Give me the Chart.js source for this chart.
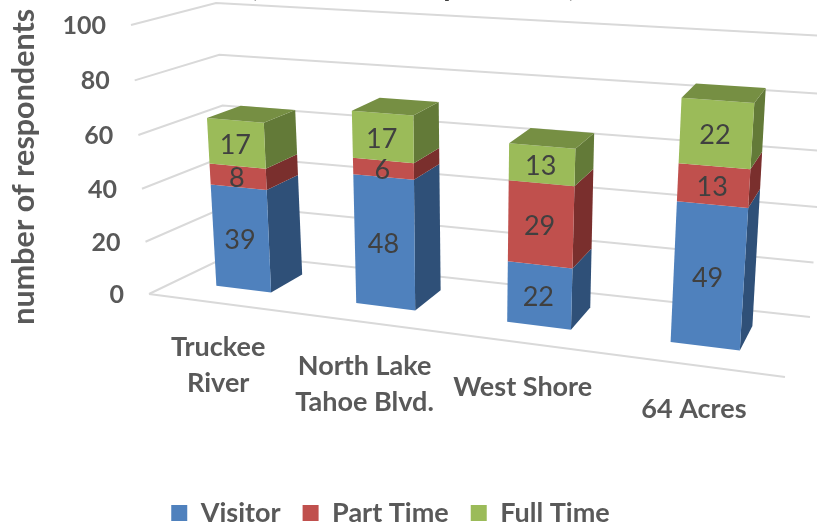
<!DOCTYPE html>
<html>
<head>
<meta charset="utf-8">
<style>
html, body { margin: 0; padding: 0; background: #fff; }
#wrap { width: 817px; height: 527px; overflow: hidden; }
</style>
<script src="https://cdn.jsdelivr.net/npm/chart.js@4"></script>
</head>
<body>
<div id="wrap"><canvas id="chart" width="817" height="527"></canvas></div>
<script>
const categories = [['Truckee', 'River'], ['North Lake', 'Tahoe Blvd.'], ['West Shore'], ['64 Acres']];
const visitor = [39, 48, 22, 49];
const partTime = [8, 6, 29, 13];
const fullTime = [17, 17, 13, 22];
const yTicks = [0, 20, 40, 60, 80, 100];

const frontFaces = ['#4f81bd', '#c0504d', '#9bbb59'];
const sideFaces = ['#2f5078', '#7a2f2d', '#637a38'];
const topFaces = ['#3f6797', '#9a403e', '#768f43'];
const gray = '#595959';
const font = 'Lato, Carlito, sans-serif';

// screen corners of the 3D box: floor and top, f = front, b = back, l = left, r = right
const box = {
    fl0: [149, 294], fr0: [785, 377], bl0: [232, 254], br0: [810, 317],
    fl1: [131, 25], fr1: [807, 68], bl1: [216, 3], br1: [828, 36]
};
const depthFront = 0.33, depthBack = 0.75; // bar depth inside the box
const perspU = 0.17, perspV = 0.037;

const mix = (a, b, t) => [a[0] + (b[0] - a[0]) * t, a[1] + (b[1] - a[1]) * t];

// u along the categories, v up the value axis, w into the depth
function project(u, v, w) {
    const pu = u / (1 + perspU * (1 - u));
    const pv = v / (1 + perspV * (1 - v));
    const floor = mix(mix(box.fl0, box.fr0, pu), mix(box.bl0, box.br0, pu), w);
    const top = mix(mix(box.fl1, box.fr1, pu), mix(box.bl1, box.br1, pu), w);
    return mix(floor, top, pv);
}

function poly(ctx, pts, fill) {
    ctx.beginPath();
    pts.forEach((p, i) => i ? ctx.lineTo(p[0], p[1]) : ctx.moveTo(p[0], p[1]));
    ctx.closePath();
    ctx.fillStyle = fill;
    ctx.fill();
}

function line(ctx, pts) {
    ctx.beginPath();
    pts.forEach((p, i) => i ? ctx.lineTo(p[0], p[1]) : ctx.moveTo(p[0], p[1]));
    ctx.stroke();
}

const box3d = {
    id: 'box3d',
    beforeDatasetsDraw(chart) {
        const ctx = chart.ctx;
        const yScale = chart.scales.y, xScale = chart.scales.x;
        const area = chart.chartArea;
        const toV = val => val / yScale.max;
        const toU = px => (px - area.left) / (area.right - area.left);

        ctx.save();

        // title runs off the top of the picture, only the descenders show
        ctx.font = 'bold 30px ' + font;
        ctx.fillStyle = '#404040';
        ctx.textAlign = 'center';
        ctx.textBaseline = 'alphabetic';
        ctx.fillText('(number of respondents)', 413, -4);

        // walls and floor
        ctx.font = 'bold 25px ' + font;
        ctx.strokeStyle = '#d9d9d9';
        ctx.lineWidth = 2;
        yScale.ticks.forEach(t => {
            const v = toV(t.value);
            const a = project(0, v, 0), b = project(0, v, 1), c = project(1, v, 1);
            line(ctx, [a, b, c]);
            ctx.fillStyle = gray;
            ctx.textAlign = 'right';
            ctx.textBaseline = 'middle';
            ctx.fillText(t.label, a[0] - 25, a[1] + 1);
        });
        line(ctx, [project(0, 0, 0), project(1, 0, 0)]);

        // category labels hang under the front floor edge
        ctx.font = 'bold 27px ' + font;
        ctx.textAlign = 'center';
        ctx.textBaseline = 'top';
        xScale.getLabels().forEach((lab, i) => {
            const p = project(toU(xScale.getPixelForValue(i)), 0, 0);
            [].concat(lab).forEach((txt, k) => ctx.fillText(txt, p[0], p[1] + 31 + k * 36));
        });

        // bars, bottom segment first
        chart.data.datasets.forEach((ds, d) => {
            chart.getDatasetMeta(d).data.forEach((el, i) => {
                const u0 = toU(el.x - el.width / 2), u1 = toU(el.x + el.width / 2);
                const v0 = toV(yScale.getValueForPixel(el.base)), v1 = toV(yScale.getValueForPixel(el.y));
                const f00 = project(u0, v0, depthFront), f10 = project(u1, v0, depthFront);
                const f01 = project(u0, v1, depthFront), f11 = project(u1, v1, depthFront);
                const b10 = project(u1, v0, depthBack), b11 = project(u1, v1, depthBack);
                const b01 = project(u0, v1, depthBack);
                poly(ctx, [f10, b10, b11, f11], sideFaces[d]);
                poly(ctx, [f00, f10, f11, f01], frontFaces[d]);
                if (d === chart.data.datasets.length - 1) poly(ctx, [f01, f11, b11, b01], topFaces[d]);
            });
        });

        // value labels sit on the front faces
        ctx.font = '27px ' + font;
        ctx.fillStyle = '#404040';
        ctx.textAlign = 'center';
        ctx.textBaseline = 'middle';
        chart.data.datasets.forEach((ds, d) => {
            chart.getDatasetMeta(d).data.forEach((el, i) => {
                const v = toV(yScale.getValueForPixel((el.base + el.y) / 2));
                const p = project(toU(el.x), v, depthFront);
                ctx.fillText(ds.data[i], p[0] - 1, p[1] + 2);
            });
        });
        ctx.restore();
        return false;
    }
};

new Chart(document.getElementById('chart'), {
    type: 'bar',
    data: {
        labels: categories,
        datasets: [
            { label: 'Visitor', data: visitor, backgroundColor: frontFaces[0] },
            { label: 'Part Time', data: partTime, backgroundColor: frontFaces[1] },
            { label: 'Full Time', data: fullTime, backgroundColor: frontFaces[2] }
        ]
    },
    options: {
        responsive: false,
        animation: false,
        layout: { padding: { top: 26, bottom: -9.5, right: 36 } },
        datasets: { bar: { barPercentage: 0.4, categoryPercentage: 1 } },
        plugins: {
            tooltip: { enabled: false },
            legend: {
                position: 'bottom',
                labels: {
                    boxWidth: 16,
                    boxHeight: 16,
                    padding: 22,
                    color: gray,
                    font: { family: font, size: 27, weight: 'bold' }
                }
            }
        },
        scales: {
            x: {
                stacked: true,
                grid: { display: false },
                border: { display: false },
                ticks: { display: false },
                afterFit: s => { s.height = 170; }
            },
            y: {
                stacked: true,
                min: 0,
                max: 100,
                afterBuildTicks: s => { s.ticks = yTicks.map(v => ({ value: v })); },
                grid: { display: false },
                border: { display: false },
                ticks: { display: false },
                title: {
                    display: true,
                    text: 'number of respondents',
                    color: gray,
                    font: { family: font, size: 30.5, weight: 'bold' },
                    padding: { top: 6, bottom: 8 }
                }
            }
        }
    },
    plugins: [box3d]
});
</script>
</body>
</html>
